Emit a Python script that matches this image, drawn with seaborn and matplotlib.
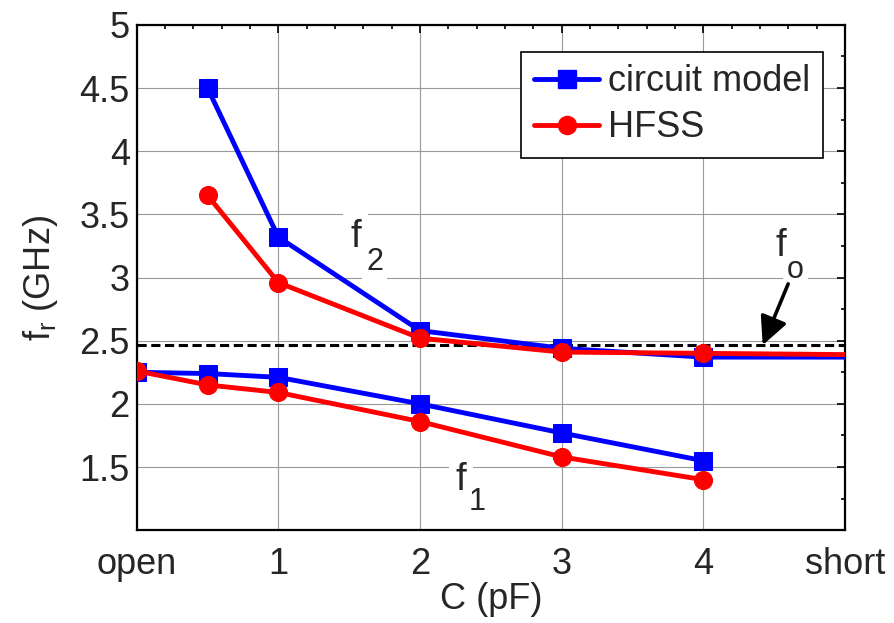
import numpy as np
import pandas as pd
import seaborn as sns
import matplotlib
matplotlib.use("Agg")
import matplotlib.pyplot as plt
from matplotlib.ticker import MultipleLocator
from matplotlib.lines import Line2D
from matplotlib.patches import FancyArrowPatch

# ---- data ----
x_f2 = [0.5, 1, 2, 3, 4, 5]
circuit_f2 = [4.50, 3.32, 2.58, 2.44, 2.37, 2.37]
hfss_f2 = [3.65, 2.96, 2.52, 2.41, 2.40, 2.39]
x_f1 = [0, 0.5, 1, 2, 3, 4]
circuit_f1 = [2.25, 2.24, 2.21, 2.00, 1.77, 1.55]
hfss_f1 = [2.26, 2.15, 2.09, 1.86, 1.58, 1.40]
f_o = 2.465
x_ticks = [0, 1, 2, 3, 4, 5]
x_ticklabels = ["open", "1", "2", "3", "4", "short"]
y_ticks = [1.5, 2, 2.5, 3, 3.5, 4, 4.5, 5]
y_ticklabels = ["1.5", "2", "2.5", "3", "3.5", "4", "4.5", "5"]

sns.set_style("white")
plt.rcParams['font.family'] = ['Liberation Sans', 'DejaVu Sans']
plt.rcParams['mathtext.fontset'] = 'custom'
plt.rcParams['mathtext.rm'] = 'Liberation Sans'
plt.rcParams['mathtext.it'] = 'Liberation Sans'

fig = plt.figure(figsize=(8.94, 6.23), dpi=100)
ax = fig.add_axes([0.153, 0.149, 0.792, 0.811])

FS = 26
blue = (0, 0, 1)
red = (1, 0, 0)

series = [
    ("circuit model", x_f2, circuit_f2, blue, "s", 5),
    ("circuit model", x_f1, circuit_f1, blue, "s", 6),
    ("HFSS", x_f2, hfss_f2, red, "o", 5),
    ("HFSS", x_f1, hfss_f1, red, "o", 6),
]
for name, xs, ys, col, mk, nmark in series:
    df = pd.DataFrame({"x": xs, "y": ys})
    sns.lineplot(data=df, x="x", y="y", ax=ax, color=col, lw=3.5,
                 marker=mk, markersize=13, markeredgecolor=col,
                 markevery=list(range(nmark)), clip_on=True, zorder=3,
                 legend=False)

ax.axhline(f_o, color="black", ls=(0, (3, 1.5)), lw=2.2, zorder=2.5)

ax.set_xlim(0, 5)
ax.set_ylim(1.0, 5)
ax.set_xticks(x_ticks)
ax.set_xticklabels(x_ticklabels, fontsize=FS)
ax.set_yticks(y_ticks)
ax.set_yticklabels(y_ticklabels, fontsize=FS)
ax.xaxis.set_minor_locator(MultipleLocator(0.2))
ax.yaxis.set_minor_locator(MultipleLocator(0.25))
ax.tick_params(which="both", direction="in", top=True, right=True,
               color="black", width=1.2)
ax.tick_params(which="major", length=6)
ax.tick_params(axis="x", which="major", pad=12)
ax.tick_params(axis="y", which="major", pad=5)
ax.tick_params(which="minor", length=3)
ax.grid(True, which="major", color="#9a9a9a", lw=0.8, zorder=0)
ax.set_axisbelow(True)
for sp in ax.spines.values():
    sp.set_color("black")
    sp.set_linewidth(1.6)

ax.set_xlabel("C (pF)", fontsize=FS, labelpad=0)
ax.set_ylabel(r"f$_\mathregular{r}$ (GHz)", fontsize=FS, labelpad=14)

FA = 28
FSUB = 22
wb = dict(facecolor="white", edgecolor="none", pad=5)
wb2 = dict(facecolor="white", edgecolor="none", pad=3)
# f2 label
ax.text(1.545, 3.32, "f", fontsize=FA, ha="center", va="center", bbox=wb, zorder=2)
ax.text(1.68, 3.12, "2", fontsize=FSUB, ha="center", va="center", bbox=wb2, zorder=2)
# f1 label
ax.text(2.29, 1.40, "f", fontsize=FA, ha="center", va="center", bbox=wb, zorder=2)
ax.text(2.40, 1.22, "1", fontsize=FSUB, ha="center", va="center", bbox=wb2, zorder=2)
# fo label with arrow
ax.text(4.55, 3.25, "f", fontsize=FA, ha="center", va="center", bbox=wb, zorder=2)
ax.text(4.65, 3.06, "o", fontsize=FSUB, ha="center", va="center", bbox=wb2, zorder=2)
arrow = FancyArrowPatch((4.60, 2.95), (4.42, f_o),
                        arrowstyle="-|>,head_length=0.45,head_width=0.22",
                        color="black", lw=2.6, mutation_scale=38,
                        shrinkA=0, shrinkB=0, zorder=6)
ax.add_patch(arrow)

handles = [Line2D([], [], color=blue, lw=3.5, marker="s", markersize=13),
           Line2D([], [], color=red, lw=3.5, marker="o", markersize=13)]
leg = ax.legend(handles, ["circuit model", "HFSS"], loc="upper right",
                bbox_to_anchor=(0.969, 0.947), fontsize=26, frameon=True,
                fancybox=False, edgecolor="black", framealpha=1,
                handlelength=1.8, handletextpad=0.25, borderpad=0.35,
                labelspacing=0.3, borderaxespad=0)
leg.get_frame().set_linewidth(1.2)

fig.savefig("out.png", dpi=100)
